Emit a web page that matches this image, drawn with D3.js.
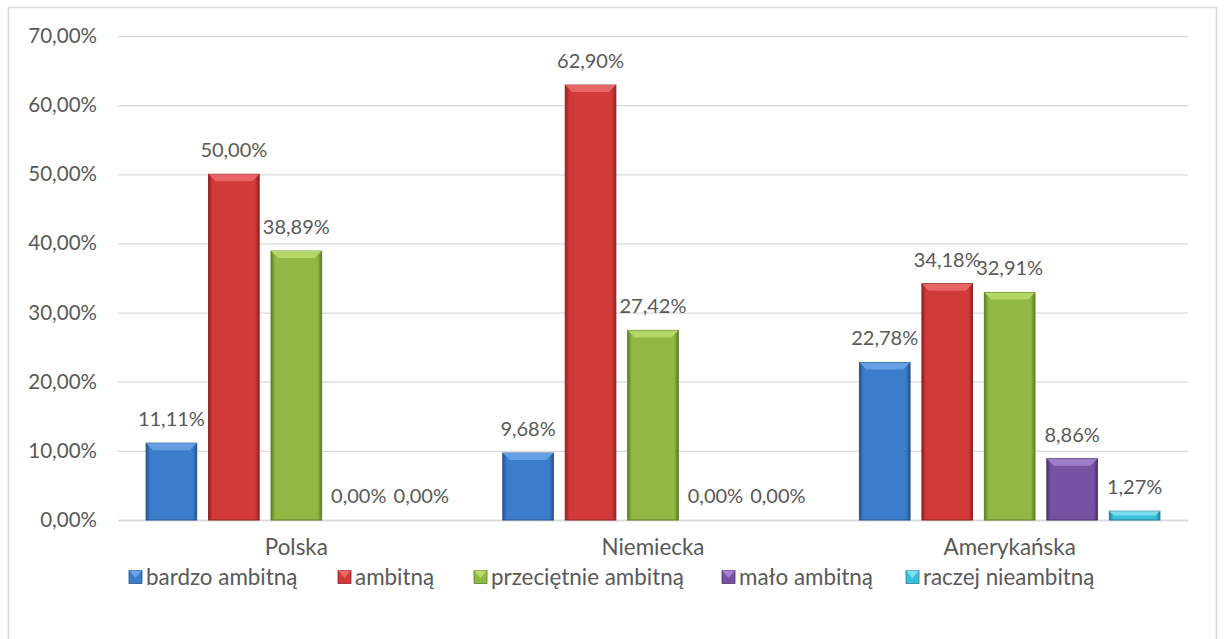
<!DOCTYPE html>
<html>
<head>
<meta charset="utf-8">
<script src="https://cdn.jsdelivr.net/npm/d3@7"></script>
<style>
  html, body { margin: 0; padding: 0; background: #fff; }
  svg text { font-family: Lato, "Open Sans", sans-serif; fill: #595959; }
</style>
</head>
<body>
<svg id="chart" width="1224" height="639"></svg>
<script>
// Categories and series
const categories = ["Polska", "Niemiecka", "Amerykańska"];
const seriesNames = ["bardzo ambitną", "ambitną", "przeciętnie ambitną", "mało ambitną", "raczej nieambitną"];
const bardzoAmbitna = [11.11, 9.68, 22.78];
const ambitna = [50.00, 62.90, 34.18];
const przecietnieAmbitna = [38.89, 27.42, 32.91];
const maloAmbitna = [0.00, 0.00, 8.86];
const raczejNieambitna = [0.00, 0.00, 1.27];
const yTicks = [0, 10, 20, 30, 40, 50, 60, 70];

const seriesValues = [bardzoAmbitna, ambitna, przecietnieAmbitna, maloAmbitna, raczejNieambitna];
const colors = [
  { base: "#3b7ccb", light: "#6aa3e6", dark: "#24548f" },
  { base: "#d23a3a", light: "#ec6a6a", dark: "#8e2323" },
  { base: "#8fb944", light: "#b8dc6b", dark: "#5d7e26" },
  { base: "#7752a3", light: "#a383cc", dark: "#4d3370" },
  { base: "#3cbfdc", light: "#7fdff2", dark: "#237f93" }
];

const svg = d3.select("#chart");
const margin = { left: 118, right: 1188, top: 36, bottom: 520 };
const tickFont = "20.5px";
const valueFont = "20px";
const textFont = "22.4px";

// Chart frame
svg.append("rect")
  .attr("x", 8.5).attr("y", 7.5)
  .attr("width", 1208).attr("height", 640)
  .attr("fill", "none").attr("stroke", "#d9d9d9").attr("stroke-width", 1.5);

const x0 = d3.scaleBand().domain(categories).range([margin.left, margin.right]).paddingInner(0).paddingOuter(0);
const x1 = d3.scaleBand().domain(d3.range(seriesNames.length)).range([0, x0.bandwidth()])
  .paddingInner(0.19).paddingOuter(0.45);
const y = d3.scaleLinear().domain([0, 70]).range([margin.bottom, margin.top]);

// Gradients for beveled bars
const defs = svg.append("defs");
colors.forEach((c, i) => {
  const g = defs.append("linearGradient").attr("id", "grad" + i)
    .attr("x1", "0").attr("x2", "1").attr("y1", "0").attr("y2", "0");
  g.append("stop").attr("offset", "0").attr("stop-color", c.dark);
  g.append("stop").attr("offset", "0.08").attr("stop-color", c.base);
  g.append("stop").attr("offset", "0.92").attr("stop-color", c.base);
  g.append("stop").attr("offset", "1").attr("stop-color", c.dark);
});

// Y axis (gridlines + labels)
const yAxis = d3.axisLeft(y).tickValues(yTicks)
  .tickSize(-(margin.right - margin.left))
  .tickFormat(d => d3.format(".2f")(d).replace(".", ",") + "%");
const gy = svg.append("g").attr("transform", `translate(${margin.left},0)`).call(yAxis);
gy.select(".domain").remove();
gy.selectAll(".tick line").attr("stroke", "#d9d9d9").attr("stroke-width", 1.3);
gy.selectAll(".tick text").attr("x", -21).style("font-size", tickFont).attr("fill", "#595959");

// X axis
const xAxis = d3.axisBottom(x0).tickSize(0);
const gx = svg.append("g").attr("transform", `translate(0,${margin.bottom})`).call(xAxis);
gx.select(".domain").attr("stroke", "#d9d9d9").attr("stroke-width", 1.3);
gx.selectAll(".tick text").attr("y", 19).attr("dy", "0.71em").style("font-size", textFont).attr("fill", "#595959");

// Bars with a bevelled top edge, and their value labels
const bevel = 7;
categories.forEach((cat, ci) => {
  seriesValues.forEach((vals, si) => {
    const v = vals[ci];
    const bx = x0(cat) + x1(si);
    const bw = x1.bandwidth();
    const by = y(v);
    const bh = y(0) - y(v);
    const c = colors[si];
    const g = svg.append("g");
    if (bh > 0) {
      g.append("rect").attr("x", bx).attr("y", by).attr("width", bw).attr("height", bh)
        .attr("fill", `url(#grad${si})`).attr("stroke", c.dark).attr("stroke-width", 1);
      const bv = Math.min(bevel, bh / 2);
      g.append("path")
        .attr("d", `M${bx},${by} L${bx + bw},${by} L${bx + bw - bv},${by + bv} L${bx + bv},${by + bv} Z`)
        .attr("fill", c.light).attr("opacity", 0.9);
    }
    svg.append("text")
      .attr("x", bx + bw / 2)
      .attr("y", by - 17)
      .attr("text-anchor", "middle")
      .style("font-size", valueFont)
      .text(d3.format(".2f")(v).replace(".", ",") + "%");
  });
});

// Legend
const legendItems = [
  { x: 129 }, { x: 338 }, { x: 474 }, { x: 722 }, { x: 906 }
];
seriesNames.forEach((name, i) => {
  const lx = legendItems[i].x, ly = 577;
  const c = colors[i];
  svg.append("rect").attr("x", lx).attr("y", ly - 6.5).attr("width", 13).attr("height", 13)
    .attr("fill", c.base).attr("stroke", c.dark).attr("stroke-width", 0.8);
  svg.append("path").attr("d", `M${lx},${ly - 6.5} L${lx + 13},${ly - 6.5} L${lx + 6.5},${ly + 1} Z`)
    .attr("fill", c.light);
  svg.append("text").attr("x", lx + 17).attr("y", ly).attr("dy", "0.35em")
    .style("font-size", textFont).text(name);
});
</script>
</body>
</html>
